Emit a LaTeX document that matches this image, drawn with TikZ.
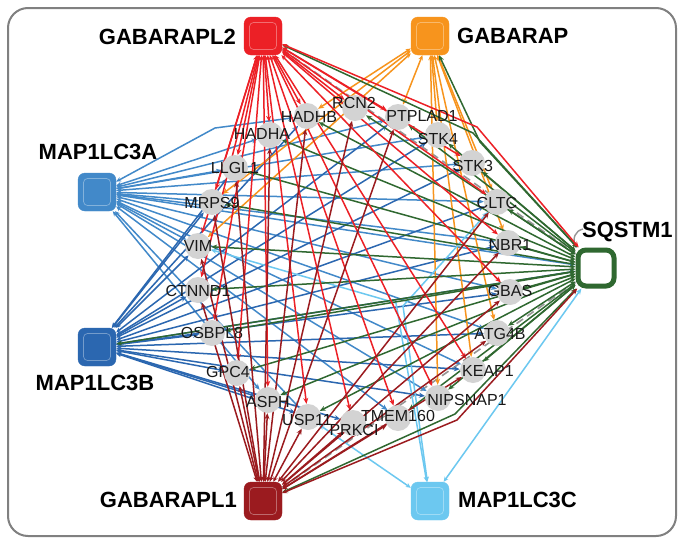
\documentclass[tikz,border=0pt]{standalone}
\usepackage{fontspec}
\setmainfont{Liberation Sans}
\usetikzlibrary{arrows.meta}
\definecolor{cLtwo}{RGB}{236,32,38}
\definecolor{cGB}{RGB}{247,148,29}
\definecolor{cLCA}{RGB}{66,137,201}
\definecolor{cLCB}{RGB}{43,103,176}
\definecolor{cLone}{RGB}{155,27,31}
\definecolor{cLCC}{RGB}{108,200,240}
\definecolor{cSQ}{RGB}{47,104,48}
\definecolor{satfill}{RGB}{211,211,211}
\definecolor{framegray}{RGB}{128,128,128}
\definecolor{dashgray}{RGB}{150,150,150}
\pgfdeclarelayer{bg}
\pgfdeclarelayer{edges}
\pgfsetlayers{bg,edges,main}
\begin{document}
\begin{tikzpicture}[x=1pt,y=-1pt,
  hub/.style={rectangle, rounded corners=7pt, minimum size=38pt, inner sep=0pt, fill=#1, draw=#1},
  hubin/.style={rectangle, rounded corners=4pt, minimum size=27pt, inner sep=0pt, draw=white, draw opacity=0.35, line width=0.7pt},
  sat/.style={circle, minimum size=26pt, inner sep=0pt, fill=satfill},
  hublab/.style={font=\fontsize{22}{25}\selectfont\bfseries, inner sep=0pt},
  satlab/.style={font=\fontsize{16}{18}\selectfont, inner sep=0pt, text=black!90},
  lnk/.style={draw=#1, line width=1.5pt, {Stealth[length=5pt,width=4.5pt]}-{Stealth[length=6pt,width=5pt]}},
  grayedge/.style={draw=dashgray, line width=1.6pt, dash pattern=on 8pt off 5pt}
]
\useasboundingbox (0,0) rectangle (680,538);
\begin{pgfonlayer}{bg}
\fill[white] (0,0) rectangle (680,538);
\draw[framegray, line width=2pt, rounded corners=20pt] (8,8) rectangle (676,536);
\end{pgfonlayer}

% hubs
\node[hub=cLtwo] (L2) at (263,36) {};
\node[hub=cGB] (GB) at (430,36) {};
\node[hub=cLCA] (LCA) at (97,192) {};
\node[hub=cLCB] (LCB) at (97,347) {};
\node[hub=cLone] (L1) at (263,501) {};
\node[hub=cLCC] (LCC) at (430,501) {};
\node[rectangle, rounded corners=8pt, minimum size=36pt, inner sep=0pt, fill=white, draw=cSQ, line width=5pt] (SQ) at (596,268) {};
\foreach \h in {L2,GB,LCA,LCB,L1,LCC} \node[hubin] at (\h) {};

% satellites
\foreach \n/\x/\y in {HADHB/307/116, HADHA/270/135, LLGL1/235/168, MRPS9/212/202, VIM/198/246,
  CTNND1/198/290, OSBPL8/212/333, GPC4/237/373, ASPH/268/400, USP11/308/417, PRKCI/353/423,
  TMEM160/398/418, NIPSNAP1/438/398, KEAP1/473/370, ATG4B/497/333, GBAS/510/292, NBR1/508/243,
  CLTC/497/202, STK3/472/163, STK4/438/135, PTPLAD1/398/117, RCN2/355/108}
  \node[sat] (\n) at (\x,\y) {};

\begin{pgfonlayer}{edges}
% gray dashed hub-hub
\draw[grayedge] (L2) -- (SQ);
\draw[grayedge] (L1) -- (SQ);
\draw[dashgray, line width=1.4pt] (SQ.north west) .. controls (572,238) and (575,231) .. (583,229);
% MAP1LC3A
\foreach \s in {HADHA,LLGL1,MRPS9,VIM,PTPLAD1,STK4,STK3,CLTC,NBR1,GBAS,ATG4B,KEAP1,NIPSNAP1,TMEM160,ASPH,USP11,SQ}
  \draw[lnk=cLCA] (LCA) -- (\s);
\draw[lnk=cLCA] (LCA) -- (215,128) -- (HADHB);
% MAP1LC3B
\foreach \s in {LLGL1,MRPS9,VIM,CTNND1,OSBPL8,GPC4,ASPH,USP11,PRKCI,NIPSNAP1,KEAP1,ATG4B,GBAS,NBR1,CLTC,STK3,STK4,PTPLAD1,HADHB,SQ}
  \draw[lnk=cLCB] (LCB) -- (\s);
% GABARAP
\foreach \s in {HADHB,MRPS9,VIM,PTPLAD1,STK4,CLTC,NBR1,ATG4B,KEAP1,NIPSNAP1}
  \draw[lnk=cGB] (GB) -- (\s);
% MAP1LC3C
\draw[lnk=cLCC] (LCC) -- (SQ);
\draw[lnk=cLCC] (LCC) -- (USP11);
\draw[lnk=cLCC] (LCC) -- (403,306) -- (CLTC);
\draw[lnk=cLCC] (LCC) -- (396,303) -- (VIM);
% SQSTM1
\foreach \s in {HADHB,HADHA,LLGL1,MRPS9,VIM,CTNND1,OSBPL8,GPC4,ASPH,USP11,TMEM160,NIPSNAP1,KEAP1,ATG4B,GBAS,NBR1,CLTC,STK3,STK4,PTPLAD1,RCN2,LCB}
  \draw[lnk=cSQ] (SQ) -- (\s);
\draw[lnk=cSQ] (SQ) -- (473,133) -- (L2);
\draw[lnk=cSQ] (SQ) -- (480,142) -- (GB);
\draw[lnk=cSQ] (SQ) -- (455,414) -- (L1);
% GABARAPL2
\foreach \s in {HADHA,HADHB,LLGL1,MRPS9,VIM,CTNND1,OSBPL8,GPC4,ASPH,USP11,PRKCI,TMEM160,NIPSNAP1,KEAP1,GBAS,NBR1,CLTC,STK3,PTPLAD1,RCN2}
  \draw[lnk=cLtwo] (L2) -- (\s);
\draw[lnk=cLtwo] (L2) -- (477,127) -- (SQ);
% GABARAPL1
\foreach \s in {MRPS9,VIM,CTNND1,LLGL1,HADHA,HADHB,RCN2,PTPLAD1,CLTC,NBR1,GBAS,ATG4B,KEAP1,TMEM160,PRKCI,USP11,ASPH,GPC4}
  \draw[lnk=cLone] (L1) -- (\s);
\draw[lnk=cLone] (L1) -- (457,420) -- (SQ);
\end{pgfonlayer}

% satellite labels
\foreach \n/\x/\y in {HADHB/309/117, HADHA/262/134, LLGL1/235/168, MRPS9/212/203, VIM/198/246,
  CTNND1/198/291, OSBPL8/212/333, GPC4/228/372, ASPH/268/402, USP11/307/420, PRKCI/354/430,
  TMEM160/398/416, NIPSNAP1/467/400, KEAP1/488/371, ATG4B/500/334, GBAS/510/291, NBR1/510/245,
  CLTC/497/203, STK3/473/166, STK4/438/139, PTPLAD1/422/116, RCN2/354/103}
  \node[satlab] (t-\n) at (\x,\y) {\n};

% hub labels
\node[hublab, anchor=east] (t-L2) at (236,37) {GABARAPL2};
\node[hublab, anchor=west] (t-GB) at (457,36) {GABARAP};
\node[hublab] (t-LCA) at (98,152) {MAP1LC3A};
\node[hublab] (t-LCB) at (95,383) {MAP1LC3B};
\node[hublab, anchor=east] (t-L1) at (237,500) {GABARAPL1};
\node[hublab, anchor=west] (t-LCC) at (458,500) {MAP1LC3C};
\node[hublab, anchor=west] (t-SQ) at (582,232) {SQSTM1};
\end{tikzpicture}
\end{document}
